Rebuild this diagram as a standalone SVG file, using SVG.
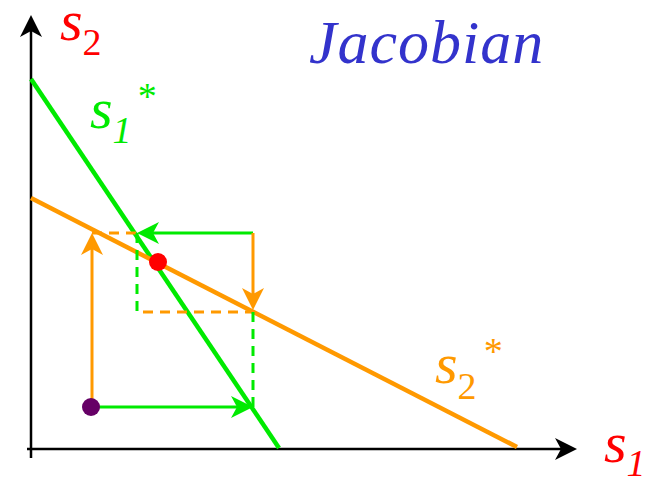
<svg xmlns="http://www.w3.org/2000/svg" width="645" height="477" viewBox="0 0 645 477">
<defs>
<style>
.ax{stroke:#000;stroke-width:2.5;fill:none}
.ln{stroke-width:4.5;fill:none}
.ar{stroke-width:3;fill:none}
.ds{stroke-width:3;fill:none;stroke-dasharray:10 7}
.g{stroke:#00ea00}
.o{stroke:#ff9900}
.t{font-family:"Liberation Serif","Times New Roman",serif;font-style:italic}
.up{font-style:normal}
</style>
<marker id="mk" markerUnits="userSpaceOnUse" markerWidth="30" markerHeight="30" viewBox="-10 -15 30 30" refX="0" refY="0" orient="auto" overflow="visible"><path d="M16,0 L-6,-11 L0,0 L-6,11 Z" fill="#000"/></marker>
<marker id="mg" markerUnits="userSpaceOnUse" markerWidth="30" markerHeight="30" viewBox="-10 -15 30 30" refX="0" refY="0" orient="auto" overflow="visible"><path d="M16,0 L-6,-11 L0,0 L-6,11 Z" fill="#00ea00"/></marker>
<marker id="mo" markerUnits="userSpaceOnUse" markerWidth="30" markerHeight="30" viewBox="-10 -15 30 30" refX="0" refY="0" orient="auto" overflow="visible"><path d="M16,0 L-6,-11 L0,0 L-6,11 Z" fill="#ff9900"/></marker>
</defs>
<g id="axes">
<line class="ax" x1="31" y1="458" x2="31" y2="31" marker-end="url(#mk)"/>
<line class="ax" x1="27" y1="449" x2="561" y2="449" marker-end="url(#mk)"/>
</g>
<g id="curves">
<line class="ln g" x1="31" y1="79" x2="279" y2="448"/>
<line class="ln o" x1="31" y1="198" x2="517" y2="447"/>
</g>
<g id="connectors">
<line class="ds o" x1="92" y1="233" x2="137" y2="233"/>
<line class="ds o" x1="143" y1="312" x2="253" y2="312"/>
<line class="ds g" x1="137" y1="233" x2="137" y2="312"/>
<line class="ds g" x1="253" y1="312" x2="253" y2="407"/>
<line class="ar g" x1="253" y1="233" x2="153" y2="233" marker-end="url(#mg)"/>
<line class="ar o" x1="253" y1="233" x2="253" y2="294" marker-end="url(#mo)"/>
<line class="ar o" x1="92" y1="407" x2="92" y2="249" marker-end="url(#mo)"/>
<line class="ar g" x1="92" y1="407" x2="237" y2="407" marker-end="url(#mg)"/>
</g>
<g id="equilibrium"><circle cx="158" cy="262" r="9" fill="#ff0000"/></g>
<g id="start"><circle cx="91" cy="407" r="9" fill="#660066"/></g>
<g id="labels">
<text class="t" x="60" y="40" font-size="58" fill="#ff0000">s<tspan class="up" font-size="38" dy="15">2</tspan></text>
<text class="t" x="604" y="462" font-size="58" fill="#ff0000">s<tspan font-size="38" dy="14">1</tspan></text>
<text class="t" x="90" y="128" font-size="58" fill="#00ea00">s<tspan font-size="38" dy="15">1</tspan></text>
<text class="t" x="136" y="109" font-size="38" fill="#00ea00">*</text>
<text class="t" x="435" y="383" font-size="58" fill="#ff9900">s<tspan class="up" font-size="38" dy="16">2</tspan></text>
<text class="t" x="482" y="364" font-size="38" fill="#ff9900">*</text>
<text class="t" x="309" y="63" font-size="62" letter-spacing="1" fill="#3333cc">Jacobian</text>
</g>
</svg>
